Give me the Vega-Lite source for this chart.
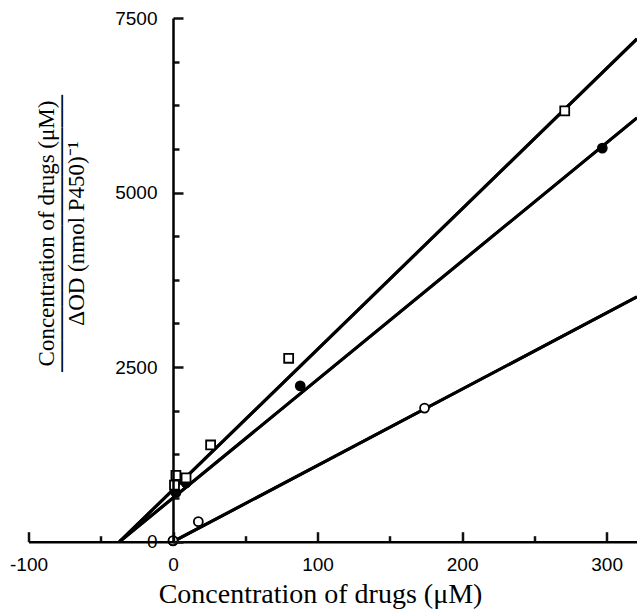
{
  "$schema": "https://vega.github.io/schema/vega-lite/v6.json",
  "width": 608.5,
  "height": 523.7,
  "autosize": {"type": "none"},
  "padding": {"left": 28.5, "top": 18, "right": 0, "bottom": 73.3},
  "background": "white",
  "config": {
    "view": {"stroke": null},
    "axis": {"grid": false, "domainColor": "black", "labelColor": "black", "titleColor": "black"}
  },
  "datasets": {
    "lines": [
      {"series": "square", "x": -37, "y": 0},
      {"series": "square", "x": 321, "y": 7200},
      {"series": "filled", "x": -37, "y": 0},
      {"series": "filled", "x": 321, "y": 6069},
      {"series": "open", "x": 0, "y": 0},
      {"series": "open", "x": 321, "y": 3506}
    ],
    "points": [
      {"series": "filled", "x": 0, "y": 10},
      {"series": "filled", "x": 2, "y": 700},
      {"series": "filled", "x": 9, "y": 840},
      {"series": "filled", "x": 88, "y": 2231},
      {"series": "filled", "x": 297, "y": 5636},
      {"series": "square", "x": 1, "y": 810},
      {"series": "square", "x": 2, "y": 950},
      {"series": "square", "x": 9, "y": 915},
      {"series": "square", "x": 26, "y": 1385},
      {"series": "square", "x": 80, "y": 2627},
      {"series": "square", "x": 271, "y": 6169},
      {"series": "open", "x": 0, "y": 15},
      {"series": "open", "x": 17.5, "y": 287},
      {"series": "open", "x": 174, "y": 1913}
    ]
  },
  "layer": [
    {
      "data": {"name": "lines"},
      "mark": {"type": "line", "stroke": "black", "strokeWidth": 3, "clip": true},
      "encoding": {
        "x": {
          "field": "x", "type": "quantitative",
          "scale": {"domain": [-100, 321], "nice": false, "zero": false},
          "axis": {"orient": "top", "offset": -523.7, "values": [-50, 50, 150, 250], "ticks": true, "tickColor": "#111111", "tickOpacity": 1, "tickSize": 6, "tickWidth": 2.5, "labels": false, "domain": false, "title": null, "zindex": 2}
        },
        "y": {
          "field": "y", "type": "quantitative",
          "scale": {"domain": [0, 7500], "nice": false, "zero": false},
          "axis": {"orient": "right", "offset": -464, "values": [625, 1250, 1875, 3125, 3750, 4375, 5625, 6250, 6875], "ticks": true, "tickColor": "#111111", "tickOpacity": 1, "tickSize": 6, "tickWidth": 2.5, "labels": false, "domain": false, "title": null, "zindex": 2}
        },
        "detail": {"field": "series"}
      }
    },
    {
      "data": {"name": "lines"},
      "mark": {"type": "line", "stroke": "black", "strokeWidth": 3, "clip": true},
      "encoding": {
        "x": {
          "field": "x", "type": "quantitative",
          "axis": {"orient": "top", "offset": -523.7, "values": [-100, 0, 100, 200, 300], "ticks": true, "tickColor": "#111111", "tickOpacity": 1, "tickSize": 10, "tickWidth": 2.5, "labels": false, "domain": false, "title": null, "zindex": 2}
        },
        "y": {
          "field": "y", "type": "quantitative",
          "axis": {"orient": "right", "offset": -464, "values": [0, 2500, 5000, 7500], "ticks": true, "tickColor": "#111111", "tickOpacity": 1, "tickSize": 10, "tickWidth": 2.5, "labels": false, "domain": false, "title": null, "zindex": 2}
        },
        "detail": {"field": "series"}
      }
    },
    {
      "data": {"name": "points"},
      "mark": {"type": "point", "filled": true, "stroke": "black", "strokeWidth": 1.8, "size": 80, "opacity": 1},
      "encoding": {
        "x": {
          "field": "x", "type": "quantitative",
          "axis": {
            "orient": "bottom", "values": [-100, 0, 100, 200, 300], "ticks": false, "domainWidth": 2.5, "zindex": 2,
            "labelExpr": "'' + datum.value",
            "labelFont": "Liberation Sans", "labelFontSize": 19, "labelPadding": 14, "labelFlush": false,
            "title": "Concentration of drugs (μM)", "titleFont": "Liberation Serif", "titleFontSize": 28, "titleFontWeight": "normal",
            "titleX": 291.5, "titleY": 53, "titleBaseline": "middle"
          }
        },
        "y": {
          "field": "y", "type": "quantitative",
          "axis": {
            "orient": "left", "offset": -144.5, "values": [0, 2500, 5000, 7500], "ticks": false, "domainWidth": 2.5, "zindex": 2,
            "labelExpr": "'' + datum.value",
            "labelFont": "Liberation Sans", "labelFontSize": 19, "labelPadding": 16,
            "title": ["Concentration of drugs (μM)", "─────────────────", "ΔOD (nmol P450)⁻¹"],
            "titleFont": "Liberation Serif", "titleFontSize": 23, "titleFontWeight": "normal", "titleLineHeight": 15,
            "titleX": -127, "titleY": 215, "titleBaseline": "middle", "titleAngle": -90
          }
        },
        "shape": {"field": "series", "type": "nominal", "scale": {"domain": ["square", "filled", "open"], "range": ["square", "circle", "circle"]}, "legend": null},
        "fill": {"field": "series", "type": "nominal", "scale": {"domain": ["square", "filled", "open"], "range": ["white", "black", "white"]}, "legend": null}
      }
    }
  ],
  "resolve": {"axis": {"x": "independent", "y": "independent"}}
}
